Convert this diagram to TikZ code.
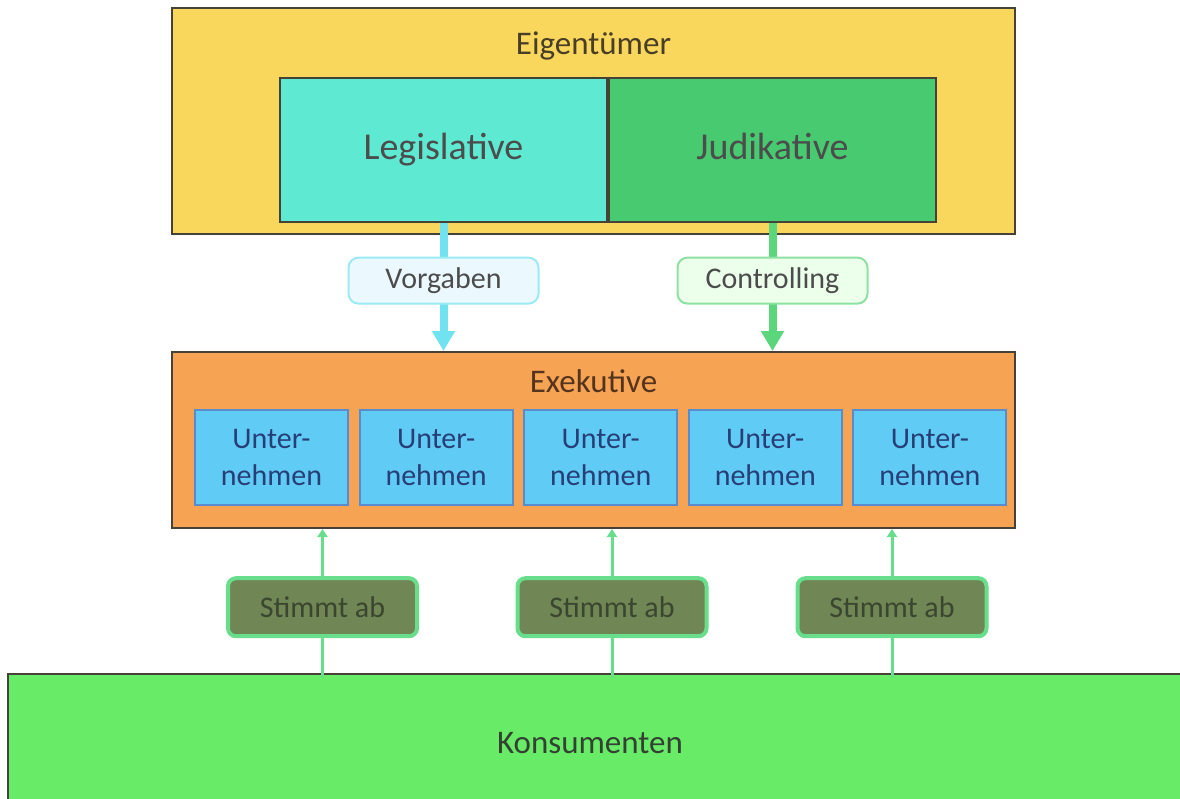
\documentclass[tikz,border=0pt]{standalone}
\usepackage{fontspec}
\setmainfont{Carlito}
\usepackage{tikz}
\usetikzlibrary{positioning,arrows.meta}

\definecolor{eigyellow}{RGB}{249,214,92}
\definecolor{legcyan}{RGB}{94,234,210}
\definecolor{judgreen}{RGB}{72,202,112}
\definecolor{exeorange}{RGB}{246,164,84}
\definecolor{untblue}{RGB}{96,204,246}
\definecolor{untdraw}{RGB}{90,140,205}
\definecolor{konsgreen}{RGB}{104,236,104}
\definecolor{voteolive}{RGB}{112,134,84}
\definecolor{votedraw}{RGB}{104,222,140}
\definecolor{vorgcyan}{RGB}{112,226,240}
\definecolor{contgreen}{RGB}{92,214,124}
\definecolor{framegray}{RGB}{70,66,56}

\begin{document}
\begin{tikzpicture}[x=0.5pt, y=-0.5pt,
  %--- block styles ---
  layer/.style={draw=framegray, line width=1pt, rectangle, inner sep=0pt,
    minimum width=421.5pt},
  eig/.style={layer, fill=eigyellow, minimum height=113pt},
  exe/.style={layer, fill=exeorange, minimum height=88pt},
  kons/.style={layer, fill=konsgreen, minimum width=600pt, minimum height=70pt},
  power/.style={draw=framegray, line width=1pt, minimum width=163.5pt, minimum height=72pt,
    text height=13pt, text depth=4pt,
    font=\fontsize{19}{22}\selectfont, text=black!70},
  firm/.style={draw=untdraw, line width=1pt, fill=untblue, minimum width=76.5pt,
    minimum height=47.5pt, align=center, inner sep=1pt,
    font=\fontsize{15}{18.5}\selectfont, text={rgb,255:red,40;green,62;blue,118}},
  vote/.style={draw=votedraw, line width=2pt, fill=voteolive, rounded corners=4pt,
    minimum width=94.5pt, minimum height=29pt, font=\fontsize{15}{18}\selectfont,
    text={rgb,255:red,58;green,70;blue,48}},
  %--- labels on the arrows ---
  tag/.style={line width=1pt, rounded corners=5pt, minimum width=95pt, minimum height=23pt,
    font=\fontsize{15}{18}\selectfont, text=black!70},
  title/.style={font=\fontsize{16.5}{20}\selectfont, text height=12pt, text depth=3pt},
  %--- arrows ---
  down/.style={line width=4pt, -{Triangle[width=11pt,length=10pt]}},
  up/.style={line width=1.5pt, draw=votedraw, -{Triangle[width=5pt,length=4pt]}}
]
\useasboundingbox (0,0) rectangle (1180,799);
\fill[white] (0,0) rectangle (1180,799);

%% ── OWNERS ──────────────────────────────────────────────────────────────────
\node[eig, label={[title, text={rgb,255:red,72;green,62;blue,40}, yshift=38pt]center:Eigentümer}]
  (eig) at (593.5,121) {};
\node[power, fill=legcyan] (leg) at (443.5,150) {Legislative};
\node[power, fill=judgreen, right=0pt of leg] (jud) {Judikative};

%% ── EXECUTIVE ───────────────────────────────────────────────────────────────
\node[exe, label={[title, text={rgb,255:red,84;green,52;blue,30}, yshift=28.5pt]center:Exekutive}]
  (exe) at (593.5,440) {};
\foreach \i in {0,...,4}
  \node[firm] (firm\i) at (271.5+164.6*\i,457.5) {Unter-\\nehmen};

%% ── CONSUMERS ───────────────────────────────────────────────────────────────
\node[kons, label={[title, text={rgb,255:red,52;green,64;blue,50}, xshift=-9pt]center:Konsumenten}]
  (kons) at (608,744) {};

%% ── ARROWS: down (rules and control) ────────────────────────────────────────
\draw[down, draw=vorgcyan, fill=vorgcyan] (leg.south) -- (leg.south |- exe.north)
  node[tag, pos=0.45, draw=vorgcyan!70, fill=cyan!8] (vorg) {Vorgaben};
\draw[down, draw=contgreen, fill=contgreen] (jud.south) -- (jud.south |- exe.north)
  node[tag, pos=0.45, draw=contgreen!70, fill=green!8] (cont) {Controlling};

%% ── ARROWS: up (votes) ──────────────────────────────────────────────────────
\foreach \x [count=\n] in {322.5,612,892} {
  \coordinate (base\n) at (\x,678);
  \draw[up] (base\n) -- (base\n |- exe.south)
    node[vote, pos=0.475] (vote\n) {Stimmt ab};
}
\end{tikzpicture}
\end{document}
